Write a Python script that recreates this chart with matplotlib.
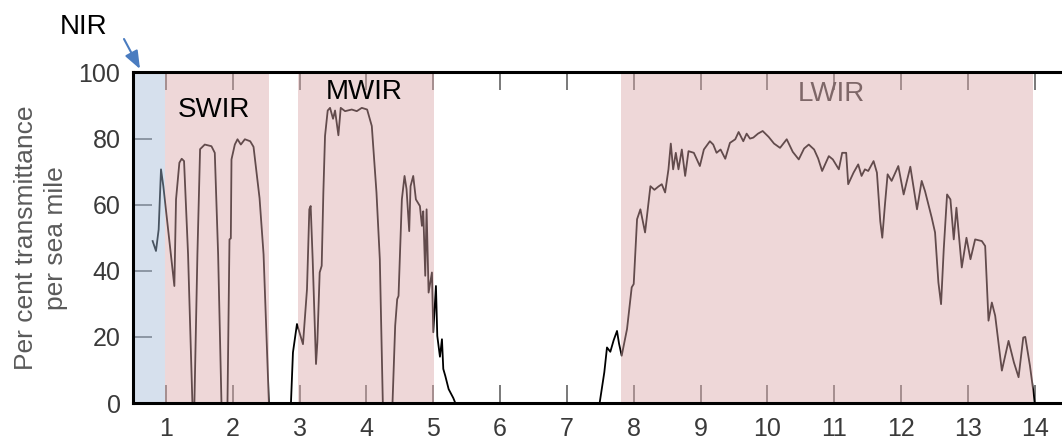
import matplotlib
matplotlib.use("Agg")
import matplotlib.pyplot as plt

# Atmospheric transmittance (per cent per sea mile) against wavelength (micrometres)
swir_wl = [0.80, 0.85, 0.89, 0.925, 0.96, 1.125, 1.15, 1.20, 1.235, 1.27,
           1.33, 1.395, 1.425, 1.47, 1.51, 1.58, 1.68, 1.73, 1.78, 1.83,
           1.92, 1.95, 1.97, 1.98, 2.03, 2.07, 2.12, 2.18, 2.26, 2.31,
           2.40, 2.46, 2.54]
swir_tr = [49.0, 46.0, 52.5, 70.7, 65.6, 35.4, 61.6, 72.7, 73.9, 73.2,
           45, 0, 0, 45, 76.8, 78.2, 77.7, 75.7, 45, 0,
           0, 49.5, 49.8, 73.7, 78.2, 79.8, 78.2, 79.8, 79.2, 77.5,
           62, 45, 0]

mwir_wl = [2.87, 2.90, 2.96, 3.05, 3.11, 3.145, 3.165, 3.195, 3.245, 3.265,
           3.30, 3.33, 3.355, 3.38, 3.42, 3.455, 3.50, 3.53, 3.58, 3.615,
           3.68, 3.78, 3.855, 3.93, 4.01, 4.08, 4.15, 4.20, 4.245, 4.39,
           4.43, 4.46, 4.48, 4.53, 4.57, 4.60, 4.64, 4.66, 4.70, 4.74,
           4.80, 4.83, 4.85, 4.88, 4.90, 4.93, 4.98, 5.00, 5.04, 5.06,
           5.10, 5.13, 5.15, 5.18, 5.23, 5.30, 5.33]
mwir_tr = [0, 15.3, 23.9, 17.8, 34.4, 58.6, 59.6, 43.5, 11.8, 18.3,
           39.5, 41.5, 63.7, 80.8, 88.5, 89.3, 86, 88.5, 81, 89.3,
           88.3, 88.8, 88.3, 89.3, 88.8, 83.8, 63.7, 43.5, 0, 0,
           23.4, 31.4, 32.4, 61.6, 68.7, 64.7, 52, 65.6, 68.7, 61.6,
           59.6, 53.6, 58, 38.5, 58.6, 33.4, 39.5, 21.4, 35.4, 20.3,
           14, 19.3, 10.3, 8.2, 4.2, 1.5, 0]

lwir_wl = [7.49, 7.56, 7.60, 7.65, 7.70, 7.75, 7.78, 7.82, 7.90, 7.97,
           8.00, 8.05, 8.10, 8.17, 8.25, 8.31, 8.37, 8.42, 8.47, 8.52,
           8.555, 8.59, 8.63, 8.67, 8.72, 8.77, 8.82, 8.90, 8.99, 9.05,
           9.14, 9.19, 9.24, 9.30, 9.37, 9.44, 9.52, 9.57, 9.64, 9.69,
           9.74, 9.79, 9.86, 9.93, 10.02, 10.10, 10.19, 10.29, 10.38, 10.47,
           10.55, 10.62, 10.70, 10.76, 10.82, 10.92, 10.98, 11.07, 11.12, 11.18,
           11.21, 11.29, 11.36, 11.41, 11.46, 11.51, 11.59, 11.64, 11.69, 11.72,
           11.76, 11.80, 11.86, 11.96, 12.04, 12.14, 12.24, 12.31, 12.36, 12.46,
           12.51, 12.56, 12.60, 12.64, 12.69, 12.74, 12.79, 12.83, 12.91, 12.98,
           13.04, 13.11, 13.21, 13.26, 13.31, 13.36, 13.41, 13.51, 13.61, 13.69,
           13.76, 13.83, 13.86, 13.93, 13.99, 14.0]
lwir_tr = [0, 9.3, 16.8, 15.5, 19, 21.8, 18, 14.3, 22.4, 35,
           36, 55.6, 58.6, 51.6, 65.6, 64.5, 65.5, 66.2, 63.7, 70.7,
           78.5, 70.7, 75.7, 70.7, 76.7, 68.7, 76.2, 75.7, 71.7, 76.7,
           79.2, 78.2, 75.7, 76.7, 73.9, 78.7, 79.8, 82.0, 79.2, 81.5,
           80.0, 80.3, 81.5, 82.3, 80.5, 78.5, 77.2, 79.8, 76, 73.7,
           77, 78.2, 76.7, 74, 70.2, 74.7, 73.7, 70.7, 75.7, 75.7,
           66.2, 69.7, 72.2, 68.7, 70.7, 70.2, 73.2, 69.7, 55, 50,
           60, 69.2, 67.2, 71.7, 63.1, 71.5, 58.6, 67.2, 64.1, 56.1,
           51.6, 36.5, 29.9, 46.5, 63.1, 61.6, 49.5, 59.1, 41, 50,
           43.5, 49.5, 49, 47.5, 24.9, 30.4, 26.4, 9.8, 18.8, 12.3,
           7.8, 19.8, 20, 11.3, 2.2, 0]

# Infrared bands
band_names = ["NIR", "SWIR", "MWIR", "LWIR"]
band_start = [0.5, 0.985, 2.97, 7.81]
band_end = [0.985, 2.547, 5.017, 13.97]

x_ticks = list(range(1, 15))
y_ticks = [0, 20, 40, 60, 80, 100]

W, H = 1062, 440
fig = plt.figure(figsize=(W / 100, H / 100), dpi=100)
fig.patch.set_facecolor("white")
ax = fig.add_axes([133 / W, 1 - 403 / H, (W - 133) / W, (403 - 72.5) / H])

wl = swir_wl + mwir_wl + lwir_wl
tr = swir_tr + mwir_tr + lwir_tr
ax.plot(wl, tr, color="black", lw=1.3, zorder=2, solid_joinstyle="round")

band_colors = {"NIR": "#a4bcd9", "SWIR": "#dba8aa", "MWIR": "#dba8aa", "LWIR": "#dba8aa"}
for name, a, b in zip(band_names, band_start, band_end):
    ax.axvspan(a, b, ymin=0, ymax=1, facecolor=band_colors[name], alpha=0.45,
               lw=0, zorder=3)

font = "Liberation Sans"
ax.text(1.72, 88.8, "SWIR", ha="center", va="center", fontsize=20,
        family=font, color="black", zorder=6)
ax.text(3.97, 94.0, "MWIR", ha="center", va="center", fontsize=20,
        family=font, color="black", zorder=6)
ax.text(10.96, 93.4, "LWIR", ha="center", va="center", fontsize=20,
        family=font, color="#333333", zorder=2.5)

# NIR label sits outside the frame, with a pointer down to the narrow band
fig.text(84 / W, 1 - 27 / H, "NIR", ha="center", va="center", fontsize=20,
         family=font, color="black")
ax.annotate("", xy=(140, H - 69), xytext=(124, H - 39),
            xycoords="figure pixels", textcoords="figure pixels",
            arrowprops=dict(arrowstyle="-|>,head_length=0.9,head_width=0.35",
                            color="#4a7cc0", lw=1.5, shrinkA=0, shrinkB=0,
                            mutation_scale=12),
            annotation_clip=False)

ax.set_xlim(0.506, 14.41)
ax.set_ylim(0, 100)
ax.set_xticks(x_ticks)
ax.set_yticks(y_ticks)
ax.set_axisbelow(True)

ax.tick_params(axis="x", which="both", direction="in", top=True, bottom=True,
               length=13, width=1.1, color="#555555", pad=10,
               labelsize=18, labelcolor="#3a3a3a")
ax.tick_params(axis="y", which="both", direction="in", left=True, right=False,
               length=14, width=1.1, color="#555555", pad=9,
               labelsize=18, labelcolor="#3a3a3a")
for lab in ax.get_xticklabels() + ax.get_yticklabels():
    lab.set_family(font)

ax.set_ylabel("Per cent transmittance\nper sea mile", fontsize=19,
              family=font, color="#5a5a5a", linespacing=1.3, labelpad=8)

for side in ("left", "top", "bottom"):
    ax.spines[side].set_linewidth(2.2)
    ax.spines[side].set_color("black")
    ax.spines[side].set_zorder(5)
ax.spines["right"].set_visible(False)

fig.savefig("out.png", dpi=100, facecolor="white")
